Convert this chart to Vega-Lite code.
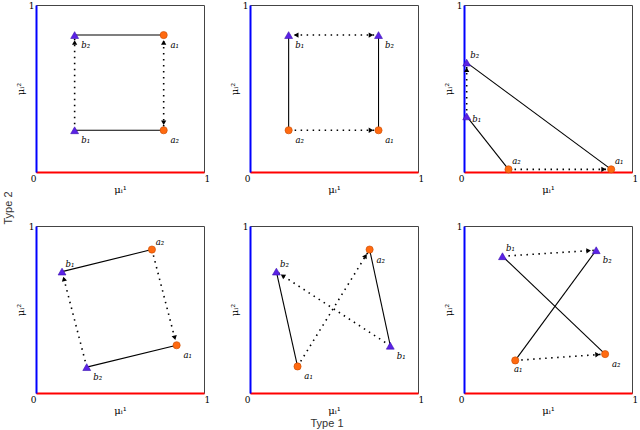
{
  "$schema": "https://vega.github.io/schema/vega-lite/v6.json",
  "background": "white",
  "padding": {"left": 2, "top": 0, "right": 2, "bottom": 0},
  "data": {"values": [
    {"r": 1, "c": 1, "kind": "pt", "t": "b", "lab": "b₁", "place": "br", "x": 0.23, "y": 0.25},
    {"r": 1, "c": 1, "kind": "pt", "t": "b", "lab": "b₂", "place": "br", "x": 0.23, "y": 0.82},
    {"r": 1, "c": 1, "kind": "pt", "t": "a", "lab": "a₁", "place": "br", "x": 0.76, "y": 0.82},
    {"r": 1, "c": 1, "kind": "pt", "t": "a", "lab": "a₂", "place": "br", "x": 0.76, "y": 0.25},
    {"r": 1, "c": 1, "kind": "seg", "style": "solid", "x": 0.23, "y": 0.82, "x2": 0.76, "y2": 0.82},
    {"r": 1, "c": 1, "kind": "seg", "style": "solid", "x": 0.23, "y": 0.25, "x2": 0.76, "y2": 0.25},
    {"r": 1, "c": 1, "kind": "seg", "style": "dotted", "x": 0.23, "y": 0.25, "x2": 0.23, "y2": 0.82},
    {"r": 1, "c": 1, "kind": "seg", "style": "dotted", "x": 0.76, "y": 0.82, "x2": 0.76, "y2": 0.25},
    {"r": 1, "c": 1, "kind": "arrow", "x": 0.23, "y": 0.775, "fx": 0.23, "fy": 0.25},
    {"r": 1, "c": 1, "kind": "arrow", "x": 0.76, "y": 0.775, "fx": 0.76, "fy": 0.25},
    {"r": 1, "c": 1, "kind": "arrow", "x": 0.76, "y": 0.295, "fx": 0.76, "fy": 0.82},

    {"r": 1, "c": 2, "kind": "pt", "t": "b", "lab": "b₁", "place": "br", "x": 0.23, "y": 0.82},
    {"r": 1, "c": 2, "kind": "pt", "t": "b", "lab": "b₂", "place": "br", "x": 0.765, "y": 0.82},
    {"r": 1, "c": 2, "kind": "pt", "t": "a", "lab": "a₂", "place": "br", "x": 0.23, "y": 0.25},
    {"r": 1, "c": 2, "kind": "pt", "t": "a", "lab": "a₁", "place": "br", "x": 0.765, "y": 0.25},
    {"r": 1, "c": 2, "kind": "seg", "style": "solid", "x": 0.23, "y": 0.82, "x2": 0.23, "y2": 0.25},
    {"r": 1, "c": 2, "kind": "seg", "style": "solid", "x": 0.765, "y": 0.82, "x2": 0.765, "y2": 0.25},
    {"r": 1, "c": 2, "kind": "seg", "style": "dotted", "x": 0.23, "y": 0.82, "x2": 0.765, "y2": 0.82},
    {"r": 1, "c": 2, "kind": "seg", "style": "dotted", "x": 0.23, "y": 0.25, "x2": 0.765, "y2": 0.25},
    {"r": 1, "c": 2, "kind": "arrow", "x": 0.275, "y": 0.82, "fx": 0.765, "fy": 0.82},
    {"r": 1, "c": 2, "kind": "arrow", "x": 0.72, "y": 0.82, "fx": 0.23, "fy": 0.82},
    {"r": 1, "c": 2, "kind": "arrow", "x": 0.72, "y": 0.25, "fx": 0.23, "fy": 0.25},

    {"r": 1, "c": 3, "kind": "pt", "t": "b", "lab": "b₂", "place": "ar", "x": 0.016, "y": 0.655},
    {"r": 1, "c": 3, "kind": "pt", "t": "b", "lab": "b₁", "place": "r", "x": 0.016, "y": 0.333},
    {"r": 1, "c": 3, "kind": "pt", "t": "a", "lab": "a₂", "place": "ar", "x": 0.265, "y": 0.016},
    {"r": 1, "c": 3, "kind": "pt", "t": "a", "lab": "a₁", "place": "ar", "x": 0.876, "y": 0.016},
    {"r": 1, "c": 3, "kind": "seg", "style": "solid", "x": 0.016, "y": 0.655, "x2": 0.876, "y2": 0.016},
    {"r": 1, "c": 3, "kind": "seg", "style": "solid", "x": 0.016, "y": 0.333, "x2": 0.265, "y2": 0.016},
    {"r": 1, "c": 3, "kind": "seg", "style": "dotted", "x": 0.016, "y": 0.333, "x2": 0.016, "y2": 0.655},
    {"r": 1, "c": 3, "kind": "seg", "style": "dotted", "x": 0.265, "y": 0.016, "x2": 0.876, "y2": 0.016},
    {"r": 1, "c": 3, "kind": "arrow", "x": 0.016, "y": 0.612, "fx": 0.016, "fy": 0.333},
    {"r": 1, "c": 3, "kind": "arrow", "x": 0.831, "y": 0.016, "fx": 0.265, "fy": 0.016},

    {"r": 2, "c": 1, "kind": "pt", "t": "b", "lab": "b₁", "place": "ar", "x": 0.155, "y": 0.727},
    {"r": 2, "c": 1, "kind": "pt", "t": "a", "lab": "a₂", "place": "ar", "x": 0.69, "y": 0.859},
    {"r": 2, "c": 1, "kind": "pt", "t": "a", "lab": "a₁", "place": "br", "x": 0.837, "y": 0.286},
    {"r": 2, "c": 1, "kind": "pt", "t": "b", "lab": "b₂", "place": "br", "x": 0.302, "y": 0.155},
    {"r": 2, "c": 1, "kind": "seg", "style": "solid", "x": 0.155, "y": 0.727, "x2": 0.69, "y2": 0.859},
    {"r": 2, "c": 1, "kind": "seg", "style": "solid", "x": 0.302, "y": 0.155, "x2": 0.837, "y2": 0.286},
    {"r": 2, "c": 1, "kind": "seg", "style": "dotted", "x": 0.302, "y": 0.155, "x2": 0.155, "y2": 0.727},
    {"r": 2, "c": 1, "kind": "seg", "style": "dotted", "x": 0.69, "y": 0.859, "x2": 0.837, "y2": 0.286},
    {"r": 2, "c": 1, "kind": "arrow", "x": 0.166, "y": 0.683, "fx": 0.302, "fy": 0.155},
    {"r": 2, "c": 1, "kind": "arrow", "x": 0.826, "y": 0.33, "fx": 0.69, "fy": 0.859},

    {"r": 2, "c": 2, "kind": "pt", "t": "a", "lab": "a₂", "place": "br", "x": 0.712, "y": 0.859},
    {"r": 2, "c": 2, "kind": "pt", "t": "b", "lab": "b₂", "place": "ar", "x": 0.157, "y": 0.727},
    {"r": 2, "c": 2, "kind": "pt", "t": "b", "lab": "b₁", "place": "br", "x": 0.835, "y": 0.283},
    {"r": 2, "c": 2, "kind": "pt", "t": "a", "lab": "a₁", "place": "br", "x": 0.283, "y": 0.159},
    {"r": 2, "c": 2, "kind": "seg", "style": "solid", "x": 0.157, "y": 0.727, "x2": 0.283, "y2": 0.159},
    {"r": 2, "c": 2, "kind": "seg", "style": "solid", "x": 0.712, "y": 0.859, "x2": 0.835, "y2": 0.283},
    {"r": 2, "c": 2, "kind": "seg", "style": "dotted", "x": 0.283, "y": 0.159, "x2": 0.712, "y2": 0.859},
    {"r": 2, "c": 2, "kind": "seg", "style": "dotted", "x": 0.835, "y": 0.283, "x2": 0.157, "y2": 0.727},
    {"r": 2, "c": 2, "kind": "arrow", "x": 0.688, "y": 0.821, "fx": 0.283, "fy": 0.159},
    {"r": 2, "c": 2, "kind": "arrow", "x": 0.195, "y": 0.702, "fx": 0.835, "fy": 0.283},

    {"r": 2, "c": 3, "kind": "pt", "t": "b", "lab": "b₁", "place": "ar", "x": 0.229, "y": 0.819},
    {"r": 2, "c": 3, "kind": "pt", "t": "b", "lab": "b₂", "place": "br", "x": 0.787, "y": 0.855},
    {"r": 2, "c": 3, "kind": "pt", "t": "a", "lab": "a₂", "place": "br", "x": 0.84, "y": 0.233},
    {"r": 2, "c": 3, "kind": "pt", "t": "a", "lab": "a₁", "place": "b", "x": 0.305, "y": 0.195},
    {"r": 2, "c": 3, "kind": "seg", "style": "solid", "x": 0.229, "y": 0.819, "x2": 0.84, "y2": 0.233},
    {"r": 2, "c": 3, "kind": "seg", "style": "solid", "x": 0.305, "y": 0.195, "x2": 0.787, "y2": 0.855},
    {"r": 2, "c": 3, "kind": "seg", "style": "dotted", "x": 0.229, "y": 0.819, "x2": 0.787, "y2": 0.855},
    {"r": 2, "c": 3, "kind": "seg", "style": "dotted", "x": 0.305, "y": 0.195, "x2": 0.84, "y2": 0.233},
    {"r": 2, "c": 3, "kind": "arrow", "x": 0.742, "y": 0.852, "fx": 0.229, "fy": 0.819},
    {"r": 2, "c": 3, "kind": "arrow", "x": 0.795, "y": 0.23, "fx": 0.305, "fy": 0.195}
  ]},
  "facet": {
    "row": {"field": "r", "type": "ordinal", "header": {"title": "Type 2", "labels": false, "titleOrient": "left", "titleFont": "Liberation Sans", "titleFontSize": 11, "titleColor": "#333333", "titleFontWeight": "normal", "titlePadding": -10}},
    "column": {"field": "c", "type": "ordinal", "header": {"title": "Type 1", "labels": false, "titleOrient": "bottom", "titleFont": "Liberation Sans", "titleFontSize": 11, "titleColor": "#333333", "titleFontWeight": "normal", "titlePadding": -8}}
  },
  "spacing": {"row": 26, "column": 17},
  "resolve": {"axis": {"x": "independent", "y": "independent"}},
  "spec": {
    "width": 168,
    "height": 167,
    "encoding": {
      "x": {"field": "x", "type": "quantitative", "scale": {"domain": [0, 1], "nice": false, "zero": false},
        "axis": {"values": [0, 1], "format": "d", "title": "μᵢ¹", "ticks": false, "grid": false, "domainColor": "#ff0000", "domainWidth": 2,
          "labelFont": "DejaVu Serif", "labelFontSize": 9, "labelColor": "black", "labelPadding": 2, "labelFlush": false,
          "labelAlign": {"condition": {"test": "datum.value == 0", "value": "right"}, "value": "left"},
          "titleFont": "DejaVu Serif", "titleFontSize": 10, "titleFontWeight": "normal", "titleColor": "black", "titlePadding": 1}},
      "y": {"field": "y", "type": "quantitative", "scale": {"domain": [0, 1], "nice": false, "zero": false},
        "axis": {"values": [1], "format": "d", "title": "μᵢ²", "ticks": false, "grid": false, "domainColor": "#0000ff", "domainWidth": 2,
          "labelFont": "DejaVu Serif", "labelFontSize": 9, "labelColor": "black", "labelPadding": 2,
          "titleFont": "DejaVu Serif", "titleFontSize": 10, "titleFontWeight": "normal", "titleColor": "black", "titlePadding": 3}}
    },
    "layer": [
      {"transform": [{"filter": "datum.kind == 'seg' && datum.style == 'solid'"}],
        "mark": {"type": "rule", "color": "black", "strokeWidth": 1.1},
        "encoding": {"x2": {"field": "x2"}, "y2": {"field": "y2"}}},
      {"transform": [{"filter": "datum.kind == 'seg' && datum.style == 'dotted'"}],
        "mark": {"type": "rule", "color": "black", "strokeWidth": 1.6, "strokeDash": [1.5, 4.5]},
        "encoding": {"x2": {"field": "x2"}, "y2": {"field": "y2"}}},
      {"transform": [{"filter": "datum.kind == 'arrow'"}, {"calculate": "atan2(datum.x - datum.fx, datum.y - datum.fy) * 180 / PI", "as": "ang"}],
        "mark": {"type": "point", "shape": "triangle-up", "filled": true, "color": "black", "size": 28, "opacity": 1},
        "encoding": {"angle": {"field": "ang", "type": "quantitative", "scale": null}}},
      {"transform": [{"filter": "datum.kind == 'pt' && datum.t == 'b'"}],
        "mark": {"type": "point", "shape": "triangle-up", "filled": true, "fill": "#5b22e6", "stroke": "#3a12b0", "strokeWidth": 0.6, "size": 62, "opacity": 1}},
      {"transform": [{"filter": "datum.kind == 'pt' && datum.t == 'a'"}],
        "mark": {"type": "point", "shape": "circle", "filled": true, "fill": "#ff6a10", "stroke": "#c84a00", "strokeWidth": 0.6, "size": 52, "opacity": 1}},
      {"transform": [{"filter": "datum.kind == 'pt' && datum.place == 'br'"}],
        "mark": {"type": "text", "font": "DejaVu Serif", "fontStyle": "italic", "fontSize": 8.5, "color": "black", "dx": 11, "dy": 10},
        "encoding": {"text": {"field": "lab"}}},
      {"transform": [{"filter": "datum.kind == 'pt' && datum.place == 'ar'"}],
        "mark": {"type": "text", "font": "DejaVu Serif", "fontStyle": "italic", "fontSize": 8.5, "color": "black", "dx": 8, "dy": -8},
        "encoding": {"text": {"field": "lab"}}},
      {"transform": [{"filter": "datum.kind == 'pt' && datum.place == 'r'"}],
        "mark": {"type": "text", "font": "DejaVu Serif", "fontStyle": "italic", "fontSize": 8.5, "color": "black", "dx": 10, "dy": 3},
        "encoding": {"text": {"field": "lab"}}},
      {"transform": [{"filter": "datum.kind == 'pt' && datum.place == 'b'"}],
        "mark": {"type": "text", "font": "DejaVu Serif", "fontStyle": "italic", "fontSize": 8.5, "color": "black", "dx": 3, "dy": 9},
        "encoding": {"text": {"field": "lab"}}}
    ]
  },
  "config": {"view": {"stroke": "#444444", "strokeWidth": 1}}
}
